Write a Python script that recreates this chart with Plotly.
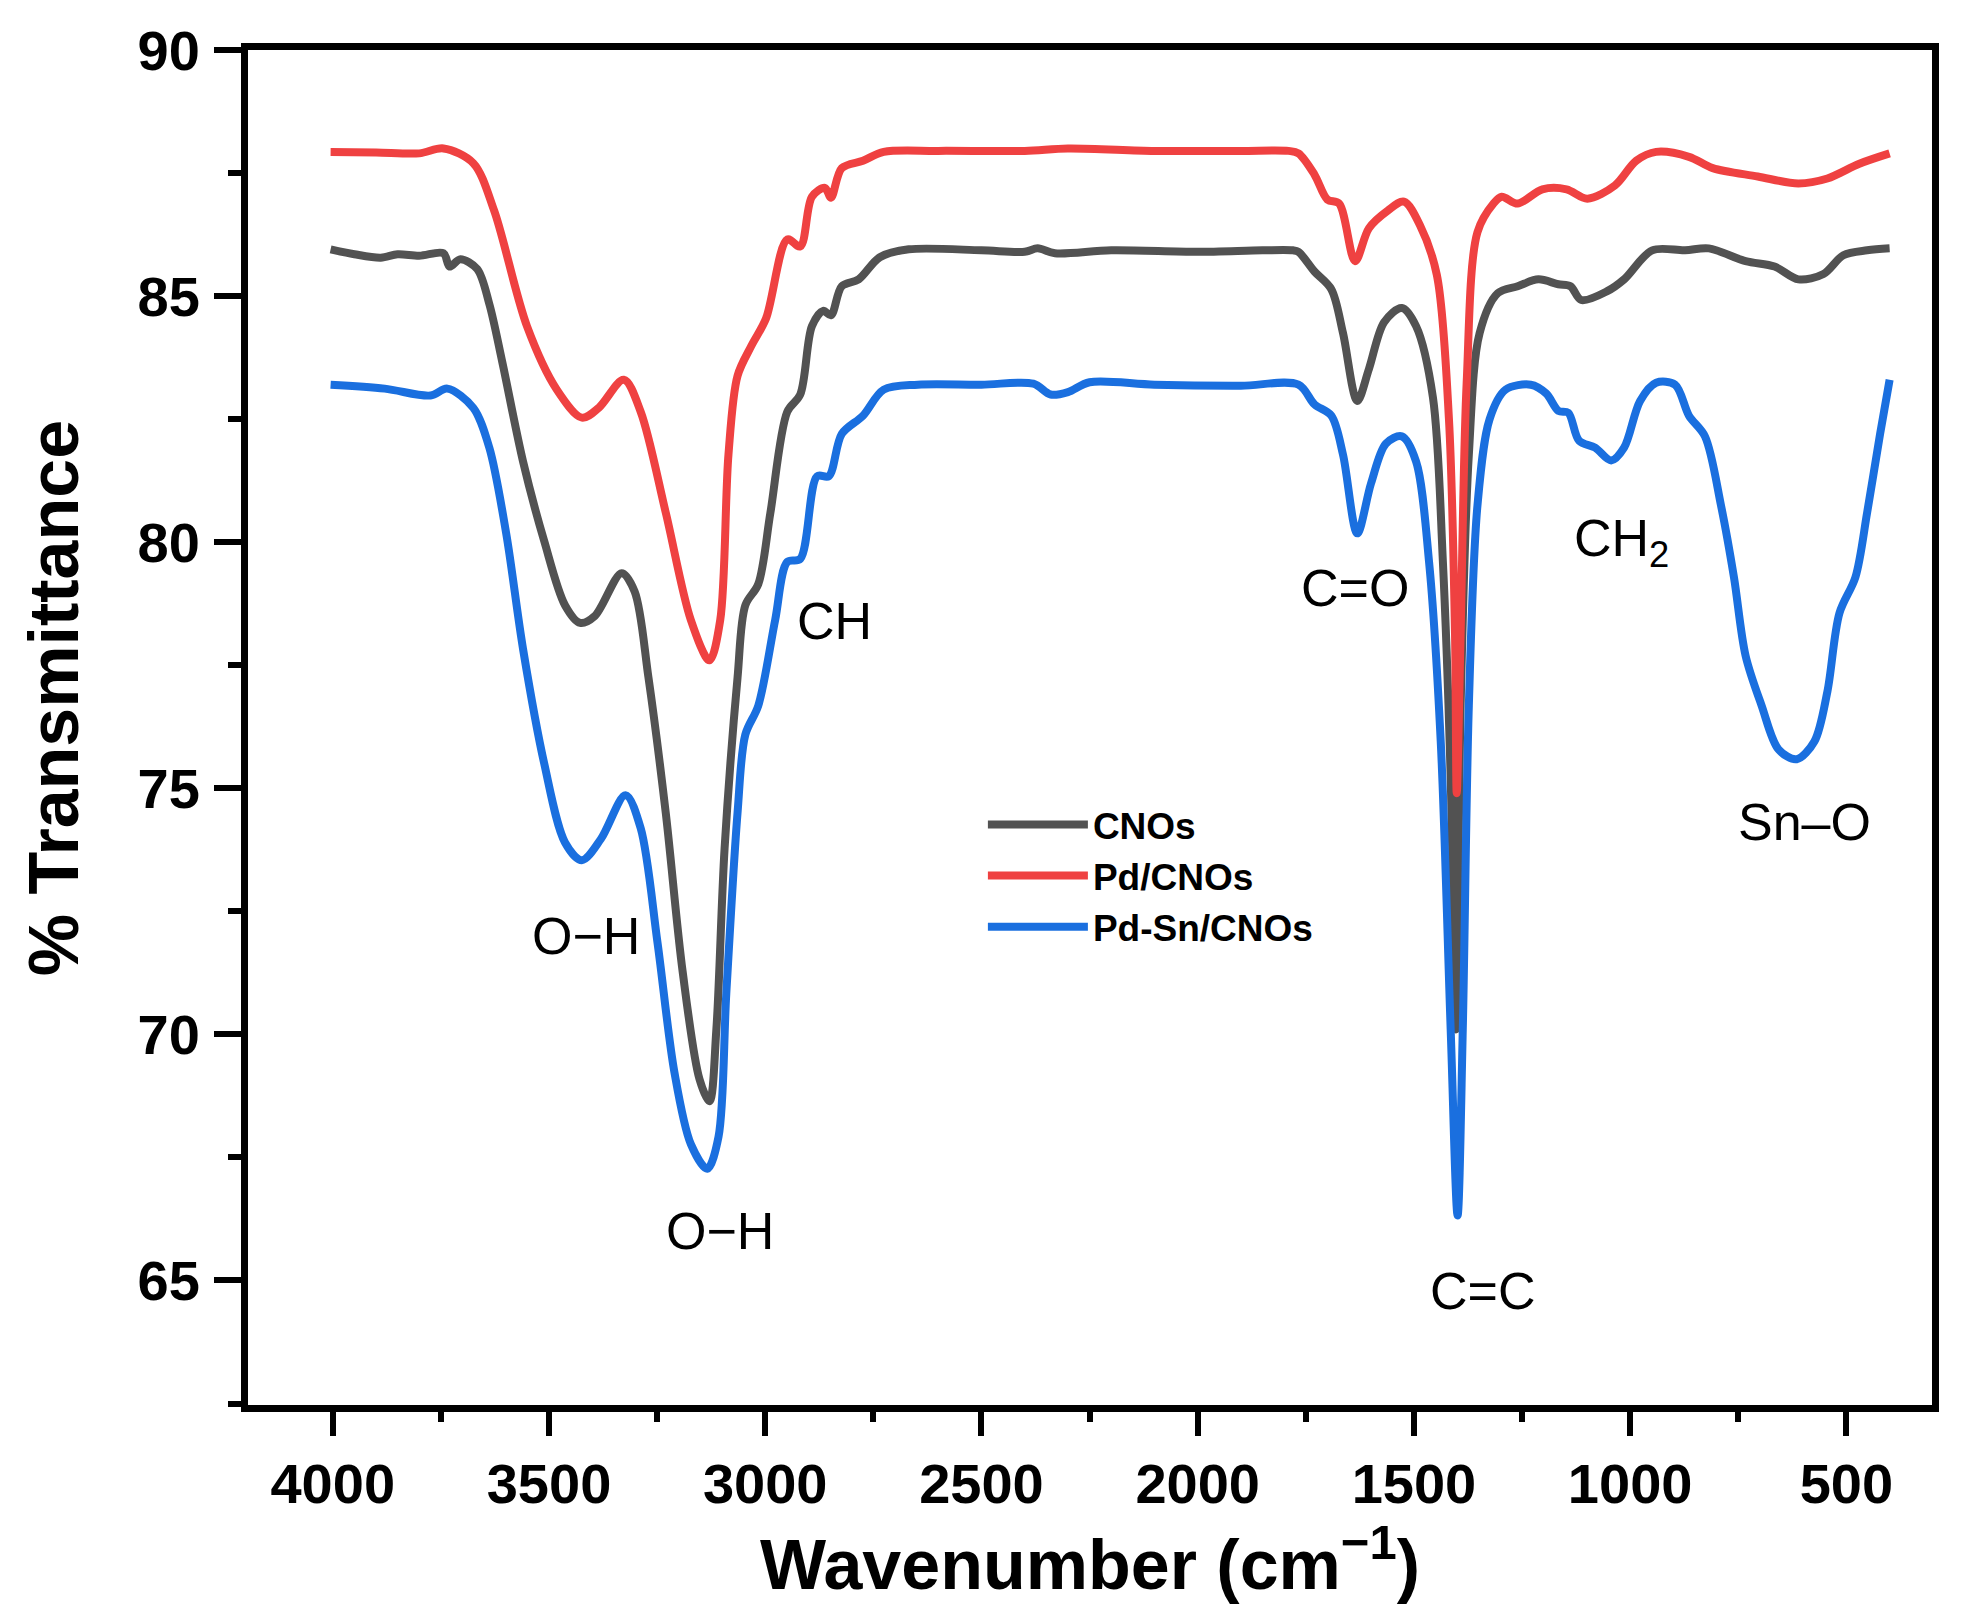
import plotly.graph_objects as go

# ---------------- data ----------------
cnos_x = [4005, 3950, 3889, 3850, 3800, 3744, 3730, 3705, 3666, 3638, 3608, 3560, 3511, 3463,
          3428, 3394, 3332, 3302, 3270, 3230, 3191, 3152, 3129, 3113, 3094, 3064, 3046, 3016,
          2988, 2949, 2919, 2892, 2866, 2848, 2823, 2784, 2735, 2668, 2500, 2400, 2370, 2330,
          2200, 2000, 1850, 1780, 1767, 1730, 1691, 1664, 1631, 1604, 1569, 1528, 1495, 1456,
          1433, 1415, 1403, 1392, 1373, 1348, 1306, 1260, 1212, 1166, 1138, 1113, 1053, 1014,
          949, 873, 818, 733, 666, 611, 553, 507, 452, 400]
cnos_y = [85.95, 85.85, 85.78, 85.85, 85.82, 85.87, 85.6, 85.75, 85.55, 84.84, 83.66, 81.64, 80.02, 78.72,
          78.36, 78.5, 79.37, 79.0, 77.25, 74.5, 71.28, 69.09, 68.64, 70.1, 73.77, 77.25, 78.72, 79.15,
          80.6, 82.65, 83.0, 84.39, 84.7, 84.61, 85.2, 85.34, 85.79, 85.95, 85.93, 85.9, 85.97, 85.87,
          85.93, 85.9, 85.93, 85.93, 85.9, 85.5, 85.14, 84.25, 82.87, 83.52, 84.47, 84.76, 84.39, 82.94,
          79.6, 75.22, 70.1, 76.68, 81.78, 84.25, 85.06, 85.2, 85.34, 85.24, 85.2, 84.92, 85.1, 85.34,
          85.93, 85.93, 85.97, 85.71, 85.6, 85.34, 85.45, 85.83, 85.93, 85.97]

pd_x = [4005, 3900, 3800, 3744, 3675, 3627, 3551, 3482, 3424, 3385, 3327, 3288, 3230, 3172,
        3129, 3104, 3085, 3064, 3032, 2998, 2949, 2919, 2892, 2862, 2848, 2823, 2774, 2726,
        2600, 2400, 2300, 2100, 1900, 1790, 1767, 1730, 1700, 1673, 1636, 1604, 1560, 1523,
        1486, 1447, 1419, 1405, 1401, 1392, 1378, 1353, 1316, 1297, 1260, 1203, 1147, 1099,
        1035, 986, 940, 864, 809, 705, 611, 544, 470, 400]
pd_y = [87.93, 87.92, 87.9, 88.0, 87.7, 86.74, 84.39, 83.1, 82.53, 82.73, 83.3, 82.65, 80.6, 78.42,
        77.6, 78.42, 81.78, 83.38, 83.99, 84.55, 86.15, 86.01, 87.02, 87.2, 87.0, 87.6, 87.75, 87.93,
        87.95, 87.95, 88.0, 87.95, 87.95, 87.95, 87.9, 87.47, 86.96, 86.88, 85.71, 86.38, 86.74, 86.92,
        86.44, 85.43, 82.5, 78.14, 74.9, 78.14, 83.24, 86.3, 86.88, 87.02, 86.88, 87.17, 87.17, 86.98,
        87.25, 87.75, 87.93, 87.83, 87.6, 87.43, 87.29, 87.39, 87.69, 87.9]

pdsn_x = [4005, 3880, 3774, 3735, 3675, 3638, 3599, 3560, 3511, 3463, 3424, 3380, 3323, 3288,
          3249, 3210, 3172, 3134, 3108, 3090, 3064, 3046, 3016, 2977, 2949, 2919, 2880, 2853,
          2823, 2774, 2726, 2647, 2500, 2380, 2340, 2300, 2250, 2100, 1900, 1767, 1730, 1691,
          1664, 1631, 1599, 1565, 1528, 1495, 1465, 1438, 1415, 1399, 1387, 1373, 1353, 1325,
          1288, 1230, 1194, 1166, 1143, 1118, 1081, 1044, 1014, 977, 940, 896, 864, 827,
          790, 760, 733, 696, 657, 615, 574, 544, 516, 479, 452, 422, 400]
pdsn_y = [83.2, 83.12, 82.98, 83.12, 82.73, 81.92, 80.18, 77.83, 75.5, 73.9, 73.54, 73.97, 74.86, 74.19,
          71.86, 69.23, 67.77, 67.27, 67.92, 70.83, 74.5, 76.09, 76.68, 78.42, 79.6, 79.66, 81.34, 81.34,
          82.2, 82.57, 83.1, 83.2, 83.2, 83.22, 83.0, 83.05, 83.25, 83.2, 83.18, 83.2, 82.8, 82.57,
          81.78, 80.18, 81.2, 82.0, 82.15, 81.64, 79.6, 75.95, 70.1, 66.32, 70.1, 76.68, 80.75, 82.5,
          83.1, 83.2, 83.02, 82.67, 82.63, 82.06, 81.92, 81.66, 81.92, 82.87, 83.24, 83.2, 82.57, 82.15,
          80.75, 79.29, 77.69, 76.68, 75.79, 75.59, 75.95, 76.96, 78.56, 79.29, 80.6, 82.2, 83.3]

series_names = ["CNOs", "Pd/CNOs", "Pd-Sn/CNOs"]
series_colors = ["#525252", "#EF4141", "#1A6FDF"]

label_texts = ["O−H", "O−H", "CH", "C=O", "C=C", "CH<sub>2</sub>", "Sn–O"]
label_x = [3415, 3104, 2839, 1636, 1341, 1021, 597]
label_y = [72.0, 66.0, 78.4, 79.07, 64.78, 80.0, 74.31]

x_tick_vals = [4000, 3500, 3000, 2500, 2000, 1500, 1000, 500]
y_tick_vals = [65, 70, 75, 80, 85, 90]

FONT = "Liberation Sans, Arial"

# ---------------- figure ----------------
fig = go.Figure()
for xs, ys, name, col in zip([cnos_x, pd_x, pdsn_x], [cnos_y, pd_y, pdsn_y],
                             series_names, series_colors):
    fig.add_trace(go.Scatter(x=xs, y=ys, mode="lines", name=name,
                             line=dict(color=col, width=8, shape="spline", smoothing=0.9)))

for t, x, y in zip(label_texts, label_x, label_y):
    fig.add_annotation(x=x, y=y, text=t, showarrow=False, xanchor="center", yanchor="middle",
                       font=dict(family=FONT, size=52, color="black"))

# y-axis title
fig.add_annotation(xref="paper", yref="paper", x=-0.1155, y=0.522, text="% Transmittance",
                   textangle=-90, showarrow=False, xanchor="center", yanchor="middle",
                   font=dict(family=FONT, size=70, color="black", weight="bold"))

axis_common = dict(showline=True, linewidth=7, linecolor="black", mirror=True,
                   ticks="outside", tickcolor="black", showgrid=False, zeroline=False,
                   tickfont=dict(family=FONT, size=56, color="black", weight="bold"))

fig.update_xaxes(range=[4196, 302], tickvals=x_tick_vals, ticklen=24, tickwidth=6,
                 minor=dict(ticks="outside", dtick=250, tick0=0, ticklen=10, tickwidth=6, tickcolor="black"),
                 title=dict(text="Wavenumber (cm<sup>−1</sup>)", standoff=19,
                            font=dict(family=FONT, size=70, color="black", weight="bold")),
                 **axis_common)
fig.update_yaxes(range=[62.47, 90], tickvals=y_tick_vals, ticklen=27, tickwidth=6,
                 ticklabelstandoff=3,
                 minor=dict(ticks="outside", dtick=2.5, tick0=0, ticklen=13, tickwidth=6, tickcolor="black"),
                 **axis_common)

# page has an 8px body margin, so the figure is 16px smaller than the window
fig.update_layout(
    width=1965, height=1598,
    margin=dict(l=240, r=41, t=42, b=201),
    plot_bgcolor="white", paper_bgcolor="white",
    font=dict(family=FONT, color="black"),
    legend=dict(x=0.4364, y=0.451, xanchor="left", yanchor="top", itemwidth=100,
                bgcolor="rgba(0,0,0,0)", borderwidth=0, tracegroupgap=0,
                font=dict(family=FONT, size=37, color="black", weight="bold")),
)

fig.write_html("out.html")
